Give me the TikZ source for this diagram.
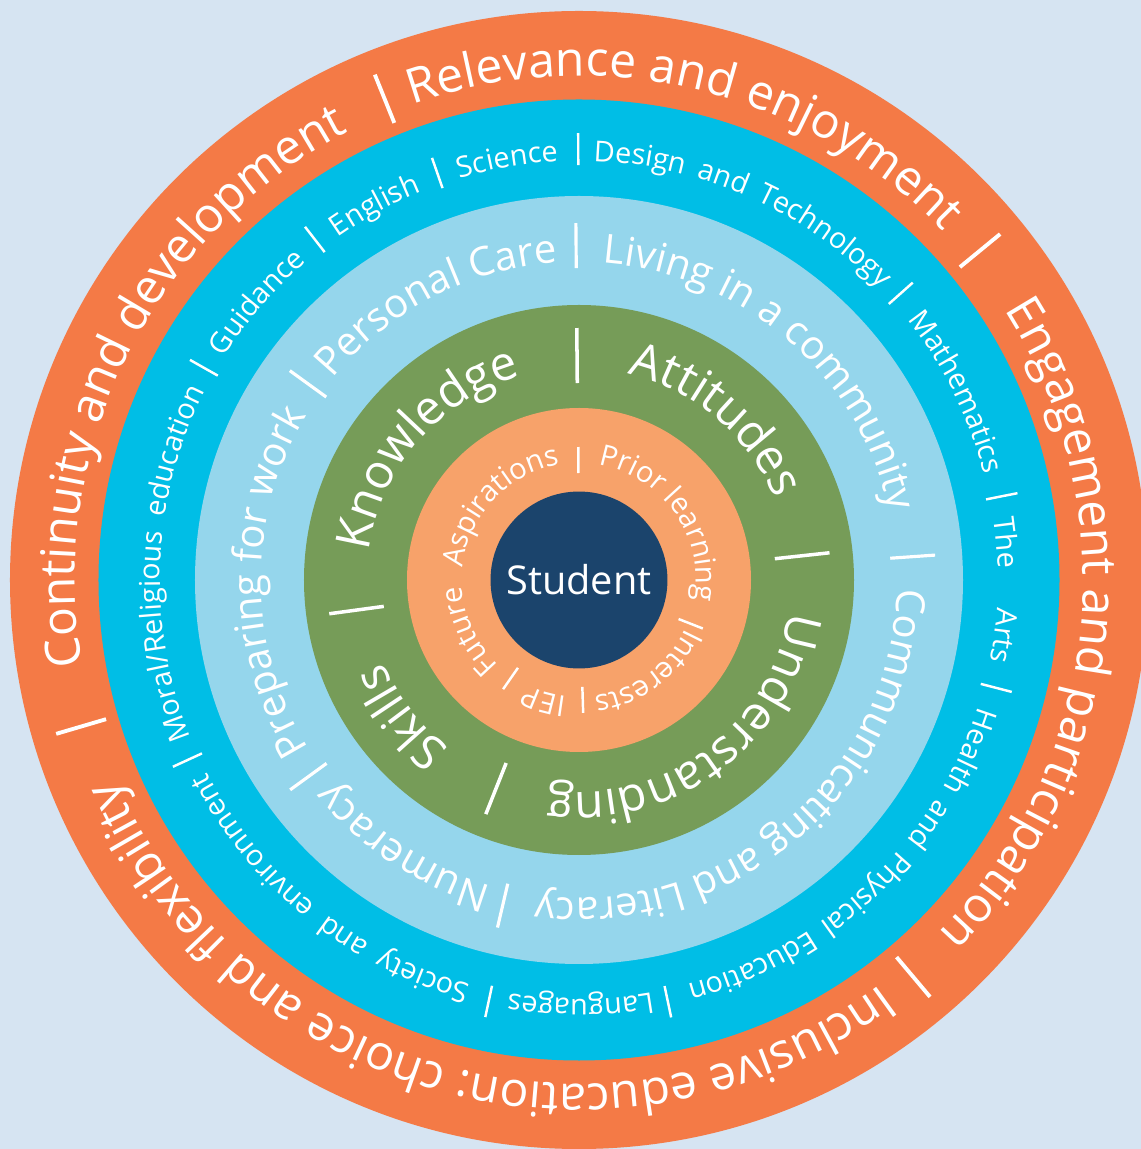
\documentclass[tikz,border=0pt]{standalone}
\usepackage{fontspec}
\setmainfont{Open Sans}
\usetikzlibrary{decorations.text}

\definecolor{bgblue}{HTML}{D6E4F2}
\definecolor{ringorange}{HTML}{F47A46}
\definecolor{ringcyan}{HTML}{00BEE6}
\definecolor{ringsky}{HTML}{95D6EC}
\definecolor{ringgreen}{HTML}{769C58}
\definecolor{ringpeach}{HTML}{F7A26A}
\definecolor{studentnavy}{HTML}{1B446C}

\newcommand{\outerfont}{\fontsize{13.7}{16}\selectfont\color{white}}
\newcommand{\subjfont}{\fontsize{8.2}{10}\selectfont\color{white}}
\newcommand{\skyfont}{\fontsize{11.4}{14}\selectfont\color{white}}
\newcommand{\greenfont}{\fontsize{13.6}{16}\selectfont\color{white}}
\newcommand{\peachfont}{\fontsize{8.3}{10}\selectfont\color{white}}

% words on a clockwise arc: radius, middle angle, font, words
\newcommand{\ringlabel}[4]{%
  \path[decorate,decoration={text along path,text align=center,text={|#3|#4}}]
    (#2+85:#1) arc[start angle=#2+85,end angle=#2-85,radius=#1];}

\begin{document}
\begin{tikzpicture}[sepbar/.style={white,line width=#1}]
\useasboundingbox[fill=bgblue] (-5.79,-5.69) rectangle (5.62,5.80);

\fill[ringorange] (0,0) circle (5.69);
\fill[ringcyan] (0,0) circle (4.805);
\fill[ringsky] (0,0) circle (3.84);
\fill[ringgreen] (0,0) circle (2.75);
\fill[ringpeach] (0,0) circle (1.72);
\node[circle,fill=studentnavy,minimum size=1.74cm,text=white,
  font=\fontsize{11.3}{13}\selectfont] (student) at (0,0) {Student};

% outer ring
\ringlabel{5.04}{76.5}{\outerfont}{Relevance and enjoyment}
\ringlabel{5.04}{-6}{\outerfont}{Engagement and participation}
\ringlabel{5.04}{-105}{\outerfont}{Inclusive education: choice and flexibility}
\ringlabel{5.04}{153.5}{\outerfont}{Continuity and development}
\foreach \a in {112,39.4,-49.9,-163.6}
  \draw[sepbar=1.1pt] (\a:4.93) -- (\a:5.45);

% subjects
\ringlabel{4.19}{99.7}{\subjfont}{Science}
\ringlabel{4.19}{66}{\subjfont}{Design{\kern1.5pt} and{\kern1.5pt} Technology}
\ringlabel{4.19}{26.5}{\subjfont}{Mathematics}
\ringlabel{4.19}{5}{\subjfont}{The}
\ringlabel{4.19}{-7.5}{\subjfont}{Arts}
\ringlabel{4.19}{-46.3}{\subjfont}{Health{\kern1.5pt} and{\kern1.5pt} Physical{\kern1.5pt} Education}
\ringlabel{4.19}{-89.8}{\subjfont}{Languages}
\ringlabel{4.19}{-128.8}{\subjfont}{Society{\kern2pt} and{\kern2pt} environment}
\ringlabel{4.19}{177.6}{\subjfont}{Moral/Religious{\kern2pt} education}
\ringlabel{4.19}{139.2}{\subjfont}{Guidance}
\ringlabel{4.19}{118.6}{\subjfont}{English}
\foreach \a in {109.2,90.1,41.7,11.2,-14.5,-78.1,-102.1,-155.3,150.5,127.8}
  \draw[sepbar=0.7pt] (\a:4.15) -- (\a:4.47);

% life skills
\ringlabel{3.18}{117.3}{\skyfont}{Personal Care}
\ringlabel{3.18}{49}{\skyfont}{Living in a community}
\ringlabel{3.18}{-49.6}{\skyfont}{Communicating and Literacy}
\ringlabel{3.18}{-123.3}{\skyfont}{Numeracy}
\ringlabel{3.18}{180.3}{\skyfont}{Preparing for work}
\foreach \a in {90.5,4,-103.2,-144,144.1}
  \draw[sepbar=0.9pt] (\a:3.12) -- (\a:3.57);

% learning
\ringlabel{2.12}{139}{\greenfont}{Knowledge}
\ringlabel{2.12}{49.5}{\greenfont}{Attitudes}
\ringlabel{2.12}{-53.5}{\greenfont}{Understanding}
\ringlabel{2.12}{-142.5}{\greenfont}{Skills}
\foreach \a in {90.5,6.2,-111.7,-172.3}
  \draw[sepbar=1pt] (\a:1.97) -- (\a:2.52);

% about the student
\ringlabel{1.17}{163}{\peachfont}{Future{\kern3pt} Aspirations}
\ringlabel{1.17}{35.1}{\peachfont}{Prior learning}
\ringlabel{1.17}{-53.5}{\peachfont}{Interests}
\ringlabel{1.17}{-106.5}{\peachfont}{IEP}
\foreach \a in {90.3,-21.4,-88.2,-124.8}
  \draw[sepbar=0.7pt] (\a:1.07) -- (\a:1.33);
\end{tikzpicture}
\end{document}
